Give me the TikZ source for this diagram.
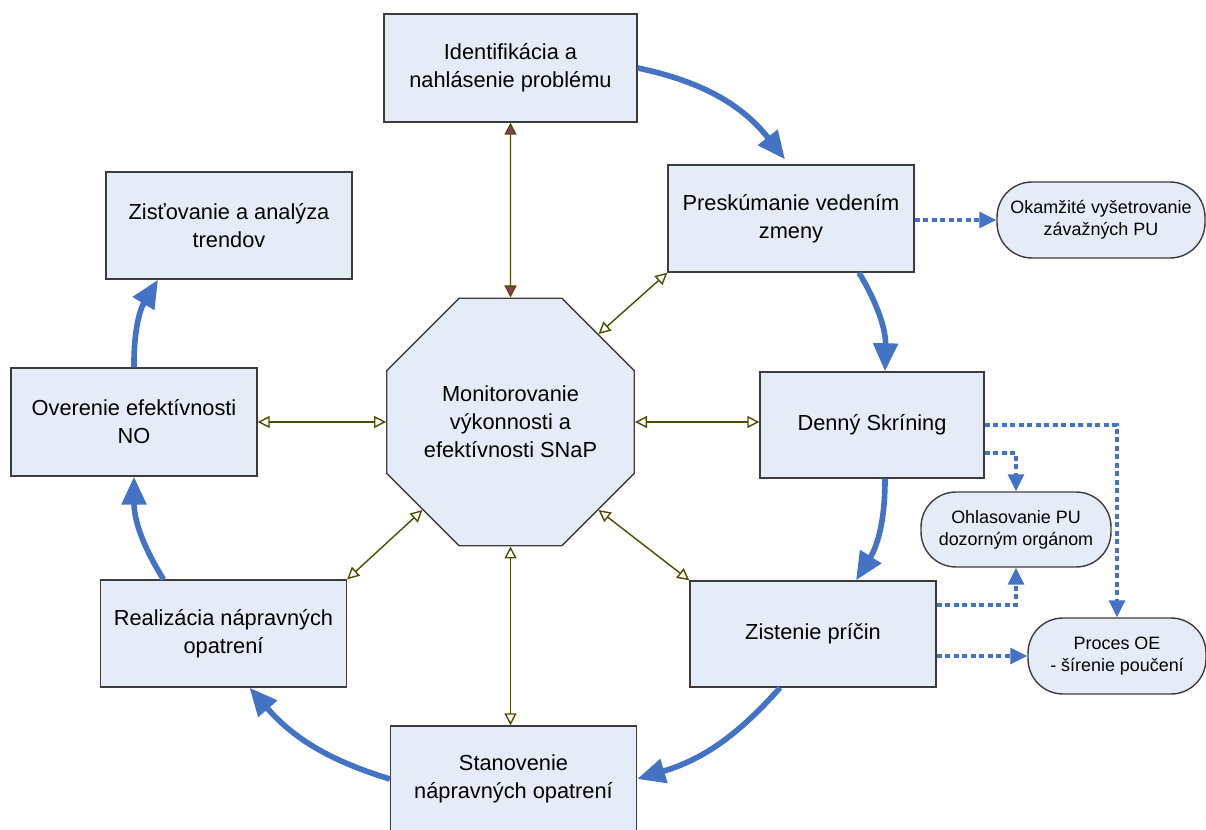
\documentclass[tikz,border=0pt]{standalone}
\usepackage{fontspec}
\setmainfont{Liberation Sans}
\usepackage{xcolor}
\usetikzlibrary{shapes.geometric,arrows.meta}

\definecolor{boxfill}{RGB}{230,236,247}
\definecolor{boxline}{RGB}{60,60,60}
\definecolor{flowblue}{RGB}{68,114,196}
\definecolor{linkolive}{RGB}{77,77,0}
\definecolor{tipred}{RGB}{153,51,102}

\tikzset{
  stepbox/.style={draw=boxline, fill=boxfill, line width=0.8pt, align=center,
    inner sep=0pt, font=\fontsize{12.4}{16}\selectfont,
    minimum width=4.92cm, minimum height=2.12cm},
  sidebox/.style={stepbox, rounded corners=0.7cm, font=\fontsize{10.2}{12.5}\selectfont},
  hub/.style={stepbox, regular polygon, regular polygon sides=8, minimum size=5.36cm},
  flow/.style={draw=flowblue, line width=3.2pt, -{Triangle[length=0.56cm,width=0.48cm]}, bend left=16},
  link/.style={draw=linkolive, line width=0.8pt,
    {Triangle[open,length=0.24cm,width=0.24cm]}-{Triangle[open,length=0.24cm,width=0.24cm]}},
  report/.style={draw=flowblue, line width=1.8pt, dash pattern=on 0.1cm off 0.07cm,
    -{Triangle[length=0.34cm,width=0.32cm]}},
}

\begin{document}
\begin{tikzpicture}[x=0.02cm, y=-0.02cm]
  \useasboundingbox (0,0) rectangle (1206,830);
  \clip (0,0) rectangle (1206,830);

  % hub
  \node[hub] (mon) at (510.5,422) {Monitorovanie\\výkonnosti a\\efektívnosti SNaP};

  % cycle steps
  \node[stepbox, minimum width=5.06cm, minimum height=2.16cm] (ident) at (510.5,68) {Identifikácia a\\nahlásenie problému};
  \node[stepbox, minimum height=2.14cm] (presk) at (791,218.5) {Preskúmanie vedením\\zmeny};
  \node[stepbox, minimum width=4.48cm] (denny) at (872,425) {Denný Skríning};
  \node[stepbox] (zist) at (813,634) {Zistenie príčin};
  \node[stepbox] (stanov) at (513.5,779) {Stanovenie\\nápravných opatrení};
  \node[stepbox, minimum height=2.14cm] (realiz) at (223.5,633.5) {Realizácia nápravných\\opatrení};
  \node[stepbox, minimum height=2.16cm] (overen) at (134,422) {Overenie efektívnosti\\NO};
  \node[stepbox, minimum height=2.14cm] (zistov) at (229,225.5) {Zisťovanie a analýza\\trendov};

  % side steps
  \node[sidebox, minimum width=4.16cm, minimum height=1.52cm] (okam) at (1101,220) {Okamžité vyšetrovanie\\závažných PU};
  \node[sidebox, minimum width=3.8cm, minimum height=1.5cm] (ohlas) at (1016,529.5) {Ohlasovanie PU\\dozorným orgánom};
  \node[sidebox, minimum width=3.56cm, minimum height=1.52cm] (proces) at (1117,656) {Proces OE\\- šírenie poučení};

  % main cycle
  \draw[flow, bend left=20] (ident.east) to ([xshift=-0.12cm,yshift=0.1cm]presk.north);
  \draw[flow] ([xshift=1.36cm]presk.south) to ([xshift=0.26cm]denny.north);
  \draw[flow] ([xshift=0.26cm]denny.south) to ([xshift=0.86cm]zist.north);
  \draw[flow] ([xshift=-0.66cm]zist.south) to (stanov.east);
  \draw[flow] (stanov.west) to ([xshift=0.52cm]realiz.south);
  \draw[flow] ([xshift=-1.2cm]realiz.north) to (overen.south);
  \draw[flow] (overen.north) to ([xshift=-1.42cm]zistov.south);

  % links to the hub
  \draw[link, {Triangle[fill=tipred,length=0.24cm,width=0.24cm]}-{Triangle[fill=tipred,length=0.24cm,width=0.24cm]}]
    (ident.south) -- (mon.north);
  \draw[link] (presk.south west) -- (mon.45);
  \draw[link] (mon.east) -- (mon.east -| denny.west);
  \draw[link] (mon.west) -- (mon.west -| overen.east);
  \draw[link] (realiz.north east) -- (mon.225);
  \draw[link] (zist.north west) -- (mon.-45);
  \draw[link] (mon.south) -- (mon.south |- stanov.north);

  % reporting
  \draw[report] (presk.east |- okam.west) -- (okam.west);
  \draw[report] (denny.east) -| (proces.north);
  \draw[report] ([yshift=-0.56cm]denny.east) -| (ohlas.north);
  \draw[report] ([yshift=0.58cm]zist.east) -| (ohlas.south);
  \draw[report] (zist.east |- proces.west) -- (proces.west);
\end{tikzpicture}
\end{document}
